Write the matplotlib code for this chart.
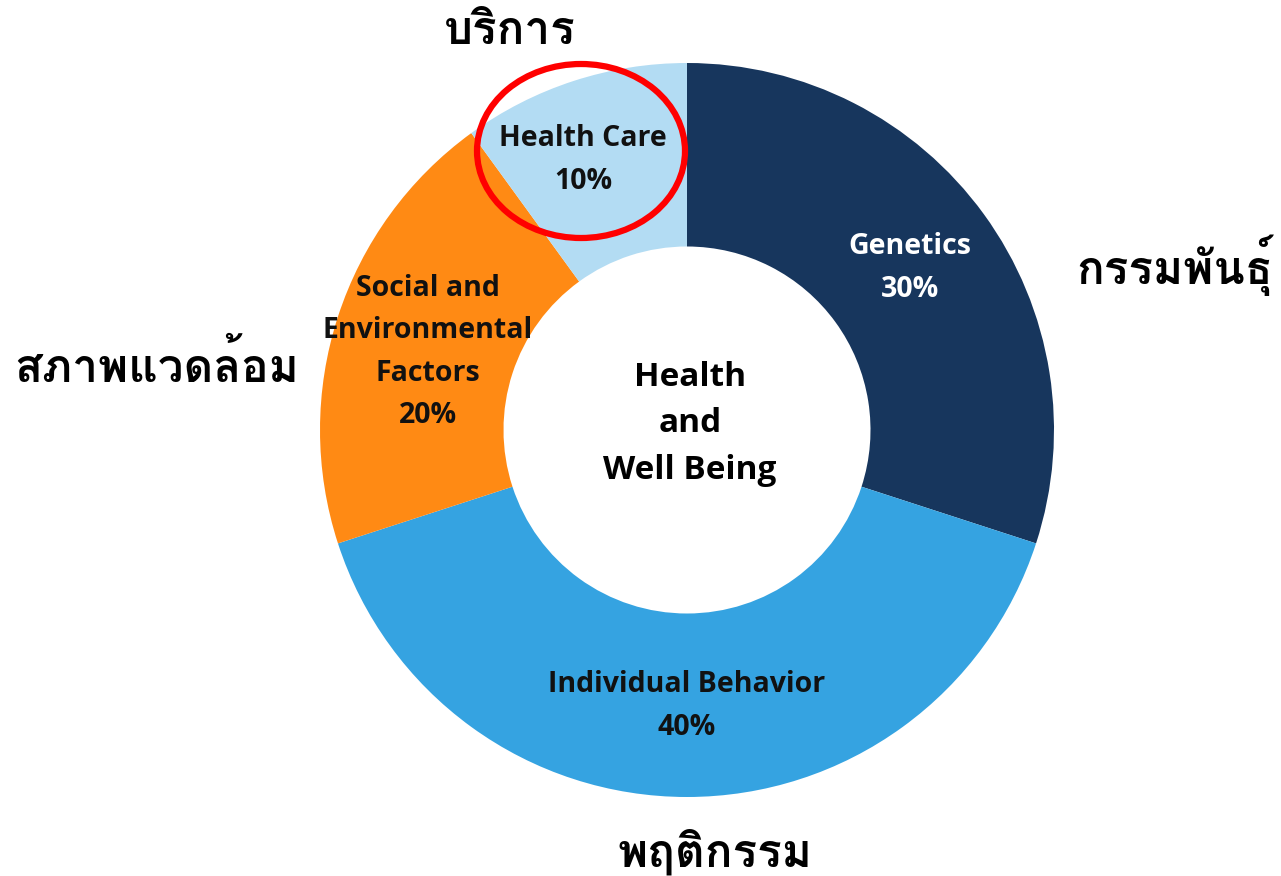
import matplotlib
matplotlib.use("Agg")
import matplotlib.pyplot as plt
from matplotlib.patches import Ellipse
from matplotlib import font_manager

categories = ["Genetics", "Individual Behavior", "Social and\nEnvironmental\nFactors", "Health Care"]
values = [30, 40, 20, 10]
thai_labels = ["กรรมพันธุ์", "พฤติกรรม", "สภาพแวดล้อม", "บริการ"]
center_label = "Health\nand\nWell Being"
colors = ["#17365D", "#35A3E1", "#FF8A14", "#B3DCF3"]
text_colors = ["white", "#111111", "#111111", "#111111"]

# pick a font that has Thai glyphs if available
thai_candidates = []
for f in font_manager.fontManager.ttflist:
    if "thai" in f.name.lower() or f.name in ("Loma", "Garuda", "Norasi", "Kinnari", "Waree", "Sawasdee", "Tlwg Typo", "Umpush", "Purisa"):
        thai_candidates.append(f.name)
thai_family = list(dict.fromkeys(thai_candidates)) + ["Noto Sans", "DejaVu Sans"]

W, H = 1281, 876
fig = plt.figure(figsize=(W / 100, H / 100), dpi=100)
ax = fig.add_axes([0, 0, 1, 1])

cx, cy = 687, H - 430
R = 367
wedges, _ = ax.pie(values, colors=colors, startangle=90, counterclock=False,
                   center=(cx, cy), radius=R, frame=True,
                   wedgeprops=dict(width=R * 0.5, edgecolor="none"))
ax.set_xlim(0, W)
ax.set_ylim(0, H)
ax.set_aspect("equal")
ax.axis("off")

lab_font = ["Open Sans", "DejaVu Sans"]
pos = [(910, 268), (687, 706), (428, 352), (583, 160)]
for cat, val, (px, py), tc in zip(categories, values, pos, text_colors):
    ax.text(px, H - py, f"{cat}\n{val}%", ha="center", va="center", color=tc,
            fontsize=20.5, fontweight="bold", family=lab_font, linespacing=1.6)

ax.text(690, H - 424, center_label, ha="center", va="center", color="black",
        fontsize=24, fontweight="bold", family=lab_font, linespacing=1.55)

thai_pos = [(1175, 265), (715, 852), (157, 365), (510, 32)]
for t, (px, py) in zip(thai_labels, thai_pos):
    ax.text(px, H - py, t, ha="center", va="center", color="black",
            fontsize=33, fontweight="bold", family=thai_family)

ax.add_patch(Ellipse((581, H - 151), 208, 174, fill=False, edgecolor="#FF0000", linewidth=4.5))

fig.savefig("out.png", dpi=100)
